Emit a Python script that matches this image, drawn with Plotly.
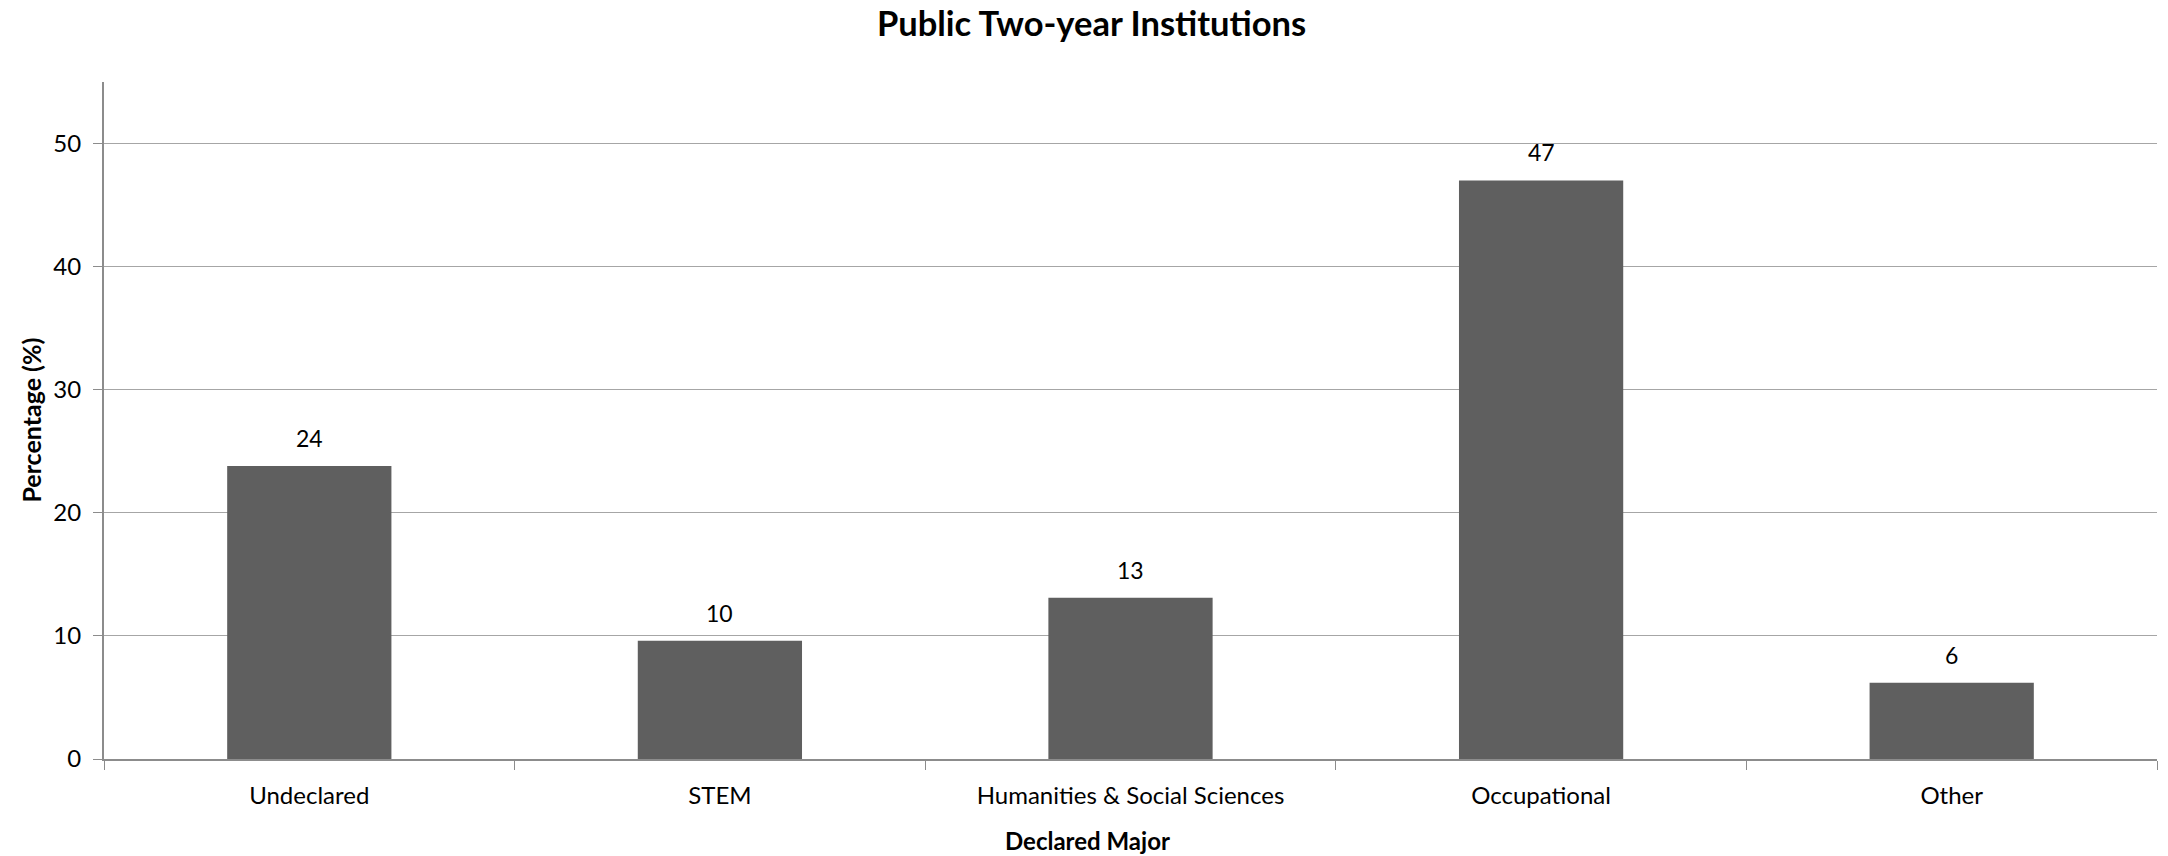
import plotly.graph_objects as go

categories = ["Undeclared", "STEM", "Humanities & Social Sciences", "Occupational", "Other"]
values = [23.8, 9.6, 13.1, 47.0, 6.2]
labels = ["24", "10", "13", "47", "6"]
y_ticks = [0, 10, 20, 30, 40, 50]

FONT = "Lato"
fig = go.Figure()
fig.add_trace(go.Bar(
    x=categories, y=values,
    marker=dict(color="#5f5f5f", line=dict(width=0)),
    hoverinfo="x+y",
))
for c, v, t in zip(categories, values, labels):
    fig.add_annotation(x=c, y=v, text=t, showarrow=False, yanchor="bottom",
                       yshift=12, font=dict(family=FONT, size=23, color="#000000"))

# axis titles
fig.add_annotation(xref="paper", yref="paper", x=0.479, y=-0.121, xanchor="center", yanchor="middle",
                   text="<b>Declared Major</b>", showarrow=False,
                   font=dict(family=FONT, size=24, color="#000000"))
fig.add_annotation(xref="paper", yref="paper", x=-0.036, y=0.5, xanchor="center", yanchor="middle",
                   text="<b>Percentage (%)</b>", showarrow=False, textangle=-90,
                   font=dict(family=FONT, size=25, color="#000000"))

fig.update_layout(
    width=2168, height=856,
    margin=dict(l=104, r=11, t=82, b=97),
    plot_bgcolor="white", paper_bgcolor="white",
    bargap=0.6,
    showlegend=False,
    title=dict(text="<b>Public Two-year Institutions</b>", x=0.5035, xanchor="center",
               y=1 - 24 / 856, yanchor="middle",
               font=dict(family=FONT, size=34.5, color="#000000")),
    font=dict(family=FONT, size=24, color="#000000"),
)
fig.update_xaxes(
    type="category", range=[-0.5, 4.5], automargin=False,
    showline=True, linecolor="#8c8c8c", linewidth=2,
    ticks="outside", tickson="boundaries", ticklen=9, tickcolor="#8c8c8c", tickwidth=1,
    ticklabelstandoff=14,
    showgrid=False,
    tickfont=dict(family=FONT, size=24, color="#000000"),
)
fig.update_yaxes(
    range=[0, 55], tickvals=y_ticks, automargin=False,
    showline=True, linecolor="#8c8c8c", linewidth=2,
    ticks="outside", ticklen=9, tickcolor="#8c8c8c", tickwidth=1,
    ticklabelstandoff=7,
    showgrid=True, gridcolor="#a6a6a6", gridwidth=1,
    zeroline=False,
    tickfont=dict(family=FONT, size=24, color="#000000"),
)
fig.write_html("out.html")
